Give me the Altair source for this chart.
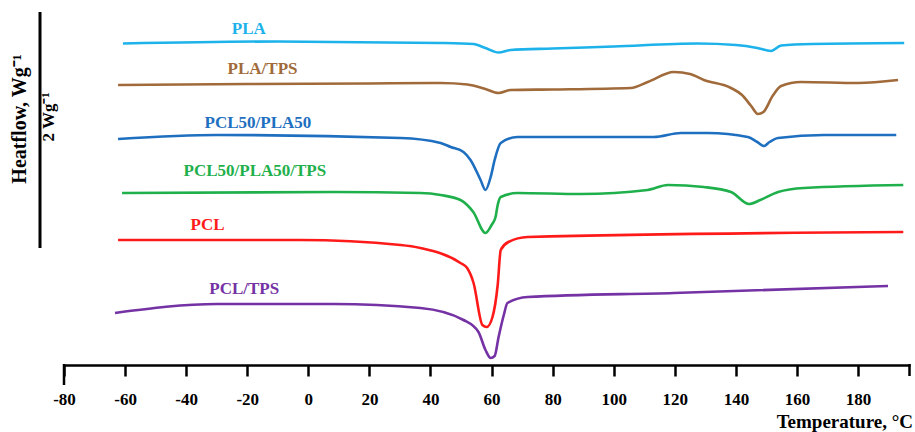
import altair as alt
import pandas as pd

# Temperature (°C) and offset heat-flow (arbitrary units, higher = exo up)
series_names = ["PLA", "PLA/TPS", "PCL50/PLA50", "PCL50/PLA50/TPS", "PCL", "PCL/TPS"]
series_colors = ["#1DB2EA", "#A06A3A", "#1E6FC0", "#1FB04C", "#FF1A1A", "#7432A4"]

pla_T = [-60.7, -10, 43.3, 54.1, 58, 62.3, 66.2, 80, 100, 127.5, 140, 147, 151.5, 154.8, 165, 195.1]
pla_H = [321.5, 323.5, 322, 321, 317, 312.5, 315, 316.5, 318.5, 321.5, 320, 317, 314, 319.5, 321, 322]

platps_T = [-62.3, -20, 20, 43.3, 52.1, 58, 62.3, 66.2, 80, 105.6, 111.1, 119.7, 125, 129.5, 138.4,
            142, 145, 147.2, 149, 152, 154.8, 161.3, 180, 193.1]
platps_H = [280, 281, 281.5, 282, 280.5, 276, 272, 275, 275.5, 277, 283, 293, 291, 285, 277,
            270, 259, 251, 253, 269, 279, 283, 282, 285]

pcl50_T = [-62.3, -29.8, 30.2, 43.3, 46.6, 50.8, 53.1, 56.4, 58, 59.7, 61, 63, 68.5, 113.1, 122,
           130.8, 143.9, 147, 149.2, 151, 153.8, 168.9, 192.5]
pcl50_H = [226, 230, 227, 222, 218, 213, 205, 185, 175, 188, 205, 222, 228, 228, 232,
           232, 228, 223, 219, 223, 227, 230, 230]

tern_T = [-61, 8.2, 36.7, 43.3, 49.8, 54, 58, 60, 61.3, 62, 63, 68.5, 89.2, 111.1, 117.7, 129.5,
          138.4, 144.3, 148, 153.8, 162.3, 194.8]
tern_H = [172, 173, 172, 170, 165, 153, 132, 140, 148, 160, 168, 172, 171, 175, 180, 178,
          173, 161, 165, 173, 177, 180]

pcl_T = [-62.3, -2.6, 30.2, 36.7, 49.8, 52, 54.1, 57, 58.4, 60.3, 62, 63, 65.5, 71.8, 194.8]
pcl_H = [125, 125, 120, 117, 102, 97, 82, 40, 38, 48, 80, 115, 123, 128, 133]

pcltps_T = [-63.3, -29.8, 8.2, 36.7, 50.8, 55.7, 58, 59.7, 61, 62.3, 64, 65.2, 71.8, 119.7, 189.8]
pcltps_H = [52, 61, 61, 57, 45, 33, 15, 7, 9, 28, 50, 62, 68, 72, 79]

# label positions (temperature, heat-flow units)
label_T = [-19.5, -15, -16.5, -17.5, -33, -21]
label_H = [336, 296, 242, 194, 140, 76]

x_ticks = [-80, -60, -40, -20, 0, 20, 40, 60, 80, 100, 120, 140, 160, 180]

all_T = [pla_T, platps_T, pcl50_T, tern_T, pcl_T, pcltps_T]
all_H = [pla_H, platps_H, pcl50_H, tern_H, pcl_H, pcltps_H]

rows = []
for name, ts, hs in zip(series_names, all_T, all_H):
    for i, (t, h) in enumerate(zip(ts, hs)):
        rows.append({"series": name, "T": t, "H": h, "order": i})
df = pd.DataFrame(rows)
lab = pd.DataFrame({"series": series_names, "T": label_T, "H": label_H})

FONT = "Liberation Serif"
W, H = 846, 365

xs = alt.Scale(domain=[-80, 197], nice=False, zero=False)
ys = alt.Scale(domain=[0, 365], nice=False, zero=False)
cs = alt.Scale(domain=series_names, range=series_colors)

lines = alt.Chart(df).mark_line(strokeWidth=2.6, interpolate="monotone", clip=False).encode(
    x=alt.X("T:Q", scale=xs,
            axis=alt.Axis(values=x_ticks, title=None, domainColor="black", domainWidth=2.5,
                          tickColor="black", tickWidth=2.5, tickSize=11, labelFont=FONT,
                          labelFontWeight="bold", labelFontSize=17, labelColor="black",
                          labelPadding=15, grid=False, labelFlush=False,
                          labelExpr="toString(datum.value)")),
    y=alt.Y("H:Q", scale=ys, axis=None),
    color=alt.Color("series:N", scale=cs, legend=None),
    detail="series:N",
    order="order:Q",
)

labels = alt.Chart(lab).mark_text(font=FONT, fontWeight="bold", fontSize=17,
                                  align="center", baseline="middle").encode(
    x=alt.X("T:Q", scale=xs),
    y=alt.Y("H:Q", scale=ys),
    color=alt.Color("series:N", scale=cs, legend=None),
    text="series:N",
)

# vertical scale bar (heat flow axis)
ybar = alt.Chart(pd.DataFrame({"a": [0]})).mark_rule(color="black", strokeWidth=3).encode(
    x=alt.value(-24), y=alt.value(12), y2=alt.value(248))
# long origin tick and end tick of x axis
origin_tick = alt.Chart(pd.DataFrame({"a": [0]})).mark_rule(color="black", strokeWidth=2.5).encode(
    x=alt.value(0), y=alt.value(364), y2=alt.value(385))
end_tick = alt.Chart(pd.DataFrame({"a": [0]})).mark_rule(color="black", strokeWidth=2.5).encode(
    x=alt.value(W - 0.5), y=alt.value(364), y2=alt.value(376))

ytitle = alt.Chart(pd.DataFrame({"t": ["Heatflow, Wg\u207b\u00b9"]})).mark_text(
    font=FONT, fontWeight="bold", fontSize=20, angle=270, align="center", baseline="middle",
    color="black").encode(x=alt.value(-44), y=alt.value(119), text="t:N")
scale_text = alt.Chart(pd.DataFrame({"t": ["2 Wg\u207b\u00b9"]})).mark_text(
    font=FONT, fontWeight="bold", fontSize=17, angle=270, align="center", baseline="middle",
    color="black").encode(x=alt.value(-15), y=alt.value(117), text="t:N")
xtitle = alt.Chart(pd.DataFrame({"t": ["Temperature,  \u00b0C"]})).mark_text(
    font=FONT, fontWeight="bold", fontSize=19, align="right", baseline="middle",
    color="black").encode(x=alt.value(849), y=alt.value(57 + 365), text="t:N")

chart = alt.layer(lines, labels, ybar, origin_tick, end_tick, ytitle, scale_text, xtitle).properties(
    width=W, height=H,
    autosize=alt.AutoSizeParams(type="none"),
    padding={"left": 64, "top": 0, "right": 5, "bottom": 67},
    background="white",
).configure_view(stroke=None)

chart.save("out.html", embed_options={"renderer": "svg", "actions": False})
